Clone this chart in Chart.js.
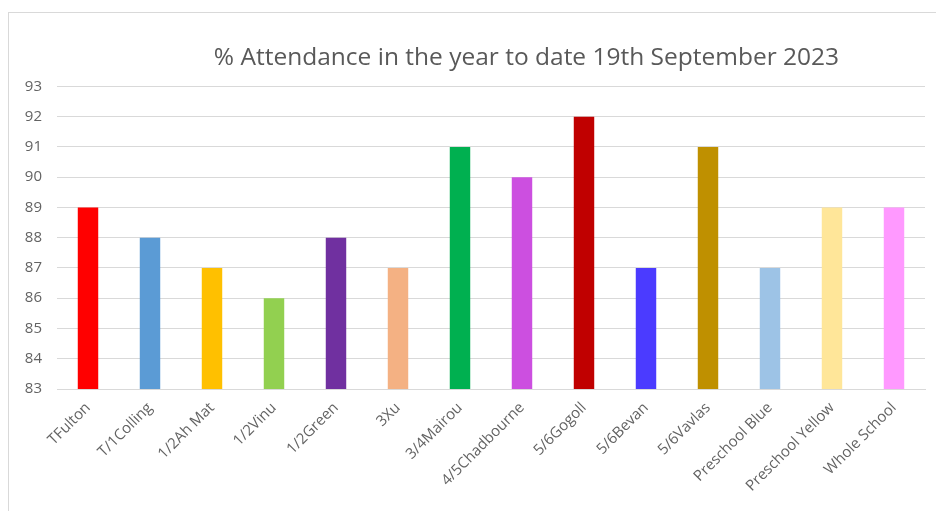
<!DOCTYPE html>
<html>
<head>
<meta charset="utf-8">
<script src="https://cdn.jsdelivr.net/npm/chart.js@4.4.0/dist/chart.umd.min.js"></script>
<style>
  html, body { margin: 0; padding: 0; background: #ffffff; }
  #wrap { position: relative; width: 936px; height: 511px; overflow: hidden; }
  #frame { position: absolute; left: 8px; top: 12px; width: 940px; height: 520px; border: 1px solid #d9d9d9; box-sizing: border-box; pointer-events: none; }
  canvas { position: absolute; left: 0; top: 0; }
</style>
</head>
<body>
<div id="wrap">
  <div id="frame"></div>
  <canvas id="c" width="936" height="511"></canvas>
</div>
<script>
const titleText = "% Attendance in the year to date 19th September 2023";
const categories = ["TFulton", "T/1Colling", "1/2Ah Mat", "1/2Vinu", "1/2Green", "3Xu", "3/4Mairou", "4/5Chadbourne", "5/6Gogoll", "5/6Bevan", "5/6Vavlas", "Preschool Blue", "Preschool Yellow", "Whole School"];
const attendance = [89, 88, 87, 86, 88, 87, 91, 90, 92, 87, 91, 87, 89, 89];
const barColors = ["#FF0000", "#5B9BD5", "#FFC000", "#92D050", "#7030A0", "#F4B183", "#00B050", "#CC4FE0", "#C00000", "#4B3BFF", "#BF9000", "#9DC3E6", "#FFE699", "#FF99FF"];
const yMin = 83, yMax = 93, yStep = 1;

const FONT = "'Open Sans', Lato, sans-serif";

const shiftTitle = {
  id: 'shiftTitle',
  afterLayout(chart) {
    const t = chart.titleBlock;
    if (t) { t.left += 55; t.right += 55; }
  }
};

new Chart(document.getElementById('c'), {
  type: 'bar',
  data: {
    labels: categories,
    datasets: [{
      data: attendance,
      backgroundColor: barColors,
      borderWidth: 0,
      barPercentage: 0.33,
      categoryPercentage: 1.0
    }]
  },
  options: {
    responsive: false,
    animation: false,
    devicePixelRatio: 1,
    layout: { padding: { left: 18, right: 11, top: 0, bottom: 0 } },
    plugins: {
      legend: { display: false },
      tooltip: { enabled: false },
      title: {
        display: true,
        text: titleText,
        color: '#595959',
        font: { family: FONT, size: 24.5, weight: 'normal', lineHeight: 1.2 },
        padding: { top: 43, bottom: 14 }
      }
    },
    scales: {
      x: {
        grid: { display: false },
        border: { display: true, color: '#d9d9d9', width: 1 },
        ticks: {
          color: '#636363',
          font: { family: FONT, size: 15 },
          minRotation: 45,
          maxRotation: 45,
          autoSkip: false,
          padding: 2
        },
        afterFit: (s) => { s.height = 122; }
      },
      y: {
        min: yMin,
        max: yMax,
        grid: { color: '#d9d9d9', lineWidth: 1, drawTicks: false },
        border: { display: false },
        ticks: {
          stepSize: yStep,
          color: '#636363',
          font: { family: FONT, size: 15 },
          padding: 15
        },
        afterFit: (s) => { s.width = 39; }
      }
    }
  },
  plugins: [shiftTitle]
});
</script>
</body>
</html>
